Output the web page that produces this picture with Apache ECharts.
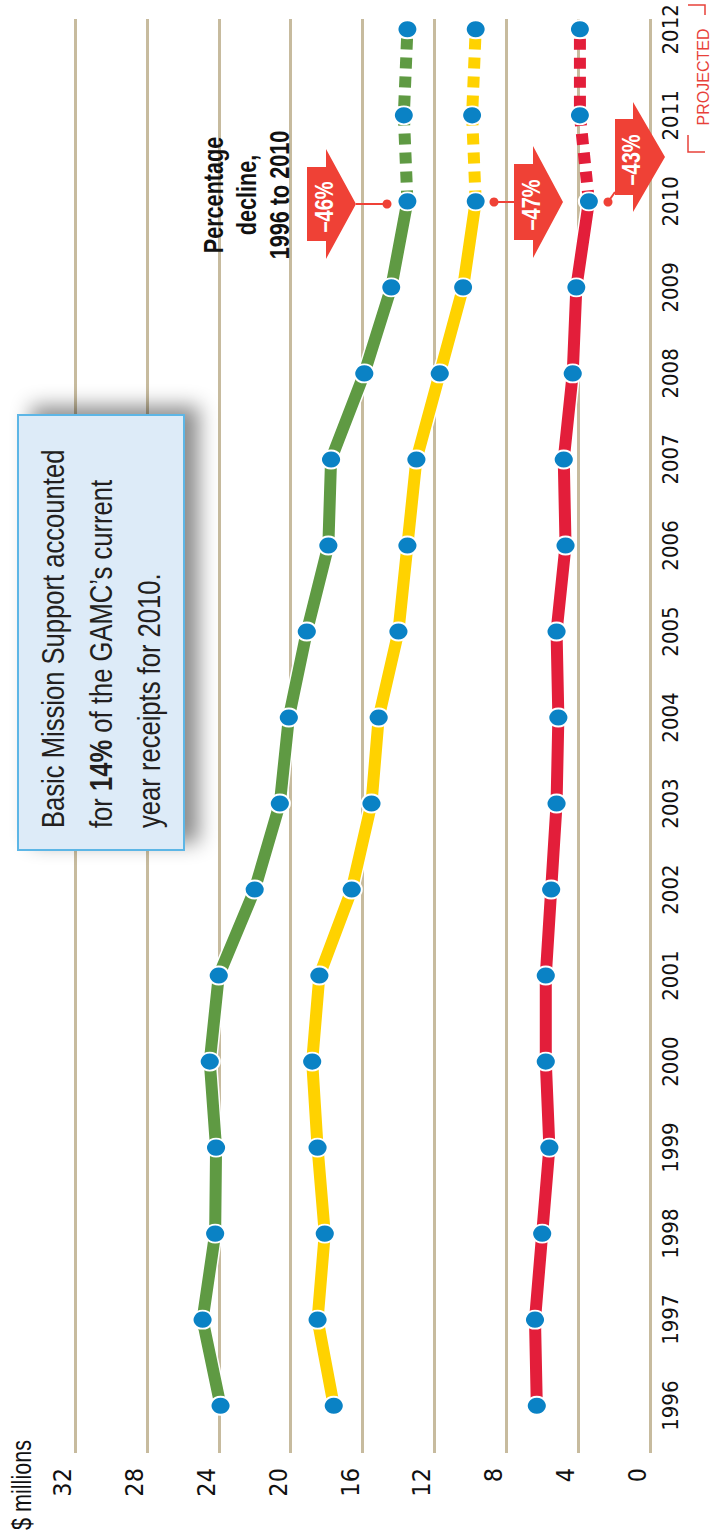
<!DOCTYPE html>
<html><head><meta charset="utf-8">
<script src="https://cdn.jsdelivr.net/npm/echarts@6/dist/echarts.min.js"></script>
<style>
html,body{margin:0;padding:0;width:712px;height:1539px;overflow:hidden;background:#fff;}
#chart{position:absolute;left:0;top:0;width:1539px;height:712px;transform-origin:0 0;transform:translateY(1539px) rotate(-90deg);}
</style></head><body><div id="chart"></div>
<script>
// ---- data ----
const years = [1996,1997,1998,1999,2000,2001,2002,2003,2004,2005,2006,2007,2008,2009,2010,2011,2012];
const green  = [23.9,24.9,24.2,24.15,24.5,24.0,22.0,20.6,20.1,19.1,17.9,17.75,15.9,14.4,13.5,13.7,13.5];
const yellow = [17.6,18.5,18.1,18.5,18.8,18.4,16.6,15.5,15.1,14.0,13.5,13.0,11.7,10.4,9.7,9.9,9.7];
const red    = [6.3,6.4,6.0,5.6,5.8,5.8,5.5,5.2,5.1,5.2,4.7,4.8,4.3,4.1,3.4,3.9,3.9];
const valueMin = 0, valueMax = 32, valueStep = 4;
const projectedFrom = 2010;
const declines = ['\u201346%','\u201347%','\u201343%'];
const unitLabel = '$ millions';
const noteLines = ['Basic Mission Support accounted', 'for {b|14%} of the GAMC\u2019s current', 'year receipts for 2010.'];
const declineTitle = 'Percentage\ndecline,\n1996 to 2010';
const projectedLabel = 'PROJECTED';

// ---- styling ----
const COND = '"DejaVu Sans Condensed","Liberation Sans Narrow",sans-serif';
const SANS = '"Liberation Sans",Arial,sans-serif';
const SX = 0.8; // horizontal squeeze for condensed look
const colors = {green:'#5f9a43', yellow:'#ffd200', red:'#e31e3a'};
const GRID = '#c7bb9e';
const CALLOUT = '#ef4136';

const cut = years.indexOf(projectedFrom);
function pairs(vals, from, to){ return years.slice(from, to).map((y,i)=>[y, vals[from+i]]); }

const seriesDefs = [['green',green],['yellow',yellow],['red',red]];
const series = [];
seriesDefs.forEach(([k,vals])=>{
  series.push({type:'line', data:pairs(vals,0,cut+1), showSymbol:false, z:2,
    lineStyle:{color:'#fff', width:15, cap:'butt', join:'round'}, silent:true});
});
seriesDefs.forEach(([k,vals])=>{
  series.push({type:'line', data:pairs(vals,0,cut+1), showSymbol:false, z:3,
    lineStyle:{color:colors[k], width:12, cap:'butt', join:'round'}, silent:true});
  series.push({type:'line', data:pairs(vals,cut,years.length), showSymbol:false, z:3,
    lineStyle:{color:colors[k], width:12, type:[11,8], cap:'butt'}, silent:true});
});
seriesDefs.forEach(([k,vals])=>{
  series.push({type:'scatter', data:pairs(vals,0,years.length), symbol:'circle', symbolSize:[18,20], z:5,
    itemStyle:{color:'#0a82c5', borderColor:'#fff', borderWidth:2, opacity:1}, silent:true});
});

const chart = echarts.init(document.getElementById('chart'), null, {renderer:'svg', width:1539, height:712});

function callout(cx, cy0, cy1, cy2, rh, th, text){
  return [
    {type:'polygon', z:10, shape:{points:[[cx-rh,cy0],[cx+rh,cy0],[cx+rh,cy1],[cx+th,cy1],[cx,cy2],[cx-th,cy1],[cx-rh,cy1]]},
      style:{fill:CALLOUT}},
    {type:'text', z:11, x:cx-3, y:cy1-1, scaleX:SX, style:{text:text, fill:'#fff', font:'bold 25px '+SANS, align:'center', verticalAlign:'middle'}}
  ];
}
function dotLine(x1,y1,x2,y2){
  return [
    {type:'line', z:10, shape:{x1:x1,y1:y1,x2:x2,y2:y2}, style:{stroke:CALLOUT, lineWidth:2}},
    {type:'circle', z:10, shape:{cx:x1, cy:y1, r:4.5}, style:{fill:CALLOUT}}
  ];
}

const graphics = [].concat(
  callout(1335, 307, 326, 356, 37, 55, declines[0]),
  dotLine(1335, 387, 1335, 356),
  callout(1337, 514, 533, 563, 38, 56, declines[1]),
  dotLine(1337, 494, 1337, 514),
  callout(1382, 615, 633, 665, 38, 55, declines[2]),
  dotLine(1337, 608, 1347, 615),
  [
    {type:'text', z:10, x:1344, y:247, scaleX:SX, style:{text:declineTitle, fill:'#111', font:'bold 27px '+SANS, align:'center', verticalAlign:'middle', lineHeight:33}},
    {type:'rect', z:10, shape:{x:689, y:18, width:435, height:166},
      style:{fill:'#ddebf8', stroke:'#5db6e6', lineWidth:2, shadowBlur:20, shadowOffsetX:8, shadowOffsetY:14, shadowColor:'rgba(0,0,0,0.45)'}},
    {type:'text', z:11, x:711, y:101, scaleX:SX, style:{text:noteLines.join('\n'), fill:'#231f20', font:'32px '+SANS,
      verticalAlign:'middle', align:'left', lineHeight:48,
      rich:{b:{fontWeight:'bold', fontSize:32, fontFamily:SANS, fill:'#231f20', lineHeight:48}}}},
    {type:'text', z:10, x:9, y:22, scaleX:SX, style:{text:unitLabel, fill:'#111', font:'27px '+SANS, align:'left', verticalAlign:'middle'}},
    {type:'text', z:10, x:1462, y:703, style:{text:projectedLabel, fill:'#e8413a', font:'16px '+SANS, align:'center', verticalAlign:'middle'}},
    {type:'polyline', z:10, shape:{points:[[1404,688],[1387,688],[1387,705]]}, style:{stroke:'#e8413a', lineWidth:1.5, fill:null}},
    {type:'polyline', z:10, shape:{points:[[1524,705],[1534,705],[1534,688]]}, style:{stroke:'#e8413a', lineWidth:1.5, fill:null}}
  ]
);

chart.setOption({
  animation:false,
  backgroundColor:'#fff',
  grid:{left:86, right:19, top:75, bottom:62, containLabel:false},
  xAxis:{type:'value', min:1995.45, max:2012.12,
    axisLine:{show:false}, axisTick:{show:false}, splitLine:{show:false},
    axisLabel:{customValues:years, formatter:v=>String(v), color:'#111', fontSize:22, fontFamily:COND, margin:9, showMinLabel:true, showMaxLabel:true}},
  yAxis:{type:'value', min:valueMin, max:valueMax, interval:valueStep,
    axisLine:{show:false}, axisTick:{show:false},
    splitLine:{show:true, lineStyle:{color:GRID, width:3}},
    axisLabel:{color:'#111', fontSize:25, fontFamily:COND, margin:15, verticalAlign:'bottom', lineHeight:25}},
  series:series,
  graphic:{elements:graphics}
});
</script></body></html>
